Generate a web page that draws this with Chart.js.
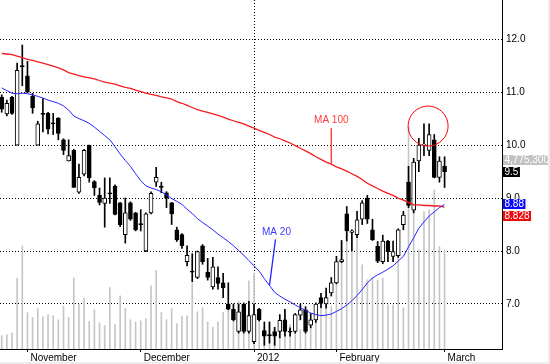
<!DOCTYPE html>
<html lang="en">
<head>
  <meta charset="UTF-8" />
  <title>Daily candles with MA 20 / MA 100</title>
  <script src="https://cdn.jsdelivr.net/npm/chart.js"></script>
  <style>
    html, body { margin: 0; padding: 0; background: #fff; }
  </style>
</head>
<body>
  <canvas id="chart" width="550" height="364"></canvas>

  <script>
    // daily bars, Oct 25 2011 .. Mar 1 2012 (index = trading day)
    const opens = [
      10.90, 10.59, 10.90, 10.00, 11.50, 11.31, 10.92, 10.00, 10.60, 10.60,
      10.42, 10.51, 10.10, 9.70, 9.90, 9.11, 9.45, 10.00, 9.31, 9.05,
      8.90, 9.10, 9.22, 8.91, 8.31, 8.91, 8.72, 8.52, 8.00, 8.72,
      9.30, 9.22, 9.10, 8.91, 8.40, 8.31, 7.80, 7.62, 7.50, 8.10,
      7.60, 7.32, 7.50, 7.40, 7.00, 6.90, 6.48, 7.00, 6.48, 6.29,
      6.90, 6.50, 6.42, 6.48, 6.48, 6.70, 6.48, 6.48, 6.79, 6.89,
      6.60, 6.70, 7.12, 7.00, 7.21, 7.40, 7.80, 8.70, 8.35, 8.31,
      8.60, 9.00, 8.40, 8.09, 7.80, 8.19, 7.90, 7.91, 8.50, 9.30,
      8.77, 9.70, 10.00, 9.90, 10.10, 9.39, 9.60
    ];
    const highs = [
      10.95, 10.85, 10.92, 11.55, 11.89, 11.58, 10.98, 10.45, 10.88, 10.62,
      10.60, 10.52, 10.12, 10.10, 9.92, 9.64, 9.92, 10.00, 9.33, 9.19,
      9.38, 9.38, 9.25, 8.92, 9.00, 8.93, 8.73, 8.78, 8.72, 9.12,
      9.58, 9.30, 9.12, 8.92, 8.45, 8.33, 8.10, 7.95, 8.00, 8.12,
      7.86, 7.88, 7.70, 7.58, 7.40, 7.00, 7.00, 7.02, 7.05, 7.00,
      6.92, 6.66, 6.66, 6.56, 6.80, 6.90, 6.55, 6.82, 7.00, 6.95,
      6.82, 7.02, 7.20, 7.30, 7.50, 7.90, 8.20, 8.84, 8.40, 8.75,
      8.95, 9.05, 8.60, 8.18, 8.30, 8.20, 8.19, 8.42, 8.75, 9.60,
      9.75, 10.13, 10.40, 10.40, 10.20, 9.78, 9.78
    ];
    const lows = [
      10.62, 10.55, 10.58, 10.00, 11.12, 10.99, 10.60, 10.00, 10.25, 10.21,
      10.20, 10.10, 9.82, 9.70, 9.20, 9.09, 9.42, 9.30, 9.05, 8.87,
      8.45, 8.90, 8.68, 8.46, 8.15, 8.58, 8.38, 8.38, 7.99, 8.70,
      9.22, 9.10, 8.82, 8.50, 8.18, 8.05, 7.72, 7.42, 7.48, 7.75,
      7.45, 7.28, 7.28, 7.12, 6.89, 6.68, 6.45, 6.45, 6.45, 6.25,
      6.68, 6.22, 6.26, 6.22, 6.36, 6.39, 6.39, 6.45, 6.70, 6.45,
      6.55, 6.65, 6.93, 6.92, 7.15, 7.38, 7.78, 8.19, 8.00, 8.25,
      8.50, 8.52, 8.20, 7.78, 7.76, 7.80, 7.80, 7.88, 8.40, 8.82,
      8.72, 9.50, 9.80, 9.80, 9.38, 9.30, 9.20
    ];
    const closes = [
      10.68, 10.79, 10.60, 11.41, 11.48, 11.00, 10.70, 10.40, 10.58, 10.30,
      10.40, 10.22, 9.90, 9.80, 9.20, 9.39, 9.90, 9.38, 9.19, 8.92,
      9.00, 9.08, 8.69, 8.50, 8.72, 8.60, 8.40, 8.50, 8.70, 9.09,
      9.39, 9.20, 9.00, 8.70, 8.21, 8.10, 7.92, 7.60, 7.99, 7.80,
      7.50, 7.70, 7.39, 7.31, 6.90, 6.70, 6.85, 6.48, 6.78, 6.80,
      6.70, 6.39, 6.40, 6.39, 6.69, 6.48, 6.47, 6.80, 6.89, 6.48,
      6.70, 7.00, 7.01, 7.12, 7.40, 7.80, 7.84, 8.38, 8.38, 8.59,
      8.91, 8.60, 8.21, 7.81, 8.19, 7.99, 7.99, 8.40, 8.68, 8.86,
      9.68, 10.00, 10.02, 10.20, 9.39, 9.70, 9.50
    ];
    const volumes = [
      640000, 690000, 770000, 3410000, 4970000, 1750000, 1520000, 1940000, 1550000, 1650000,
      1600000, 1410000, 2060000, 1520000, 3430000, 2160000, 2450000, 1330000, 1890000, 1250000,
      1130000, 2960000, 1170000, 2560000, 1950000, 1410000, 1300000, 1360000, 1460000, 3040000,
      3780000, 1760000, 1410000, 1940000, 1220000, 1570000, 1600000, 3170000, 1790000, 1990000,
      1310000, 1040000, 1310000, 1750000, 1990000, 1700000, 2290000, 1520000, 3280000, 3640000,
      1520000, 1040000, 1310000, 1020000, 1410000, 1890000, 1170000, 1510000, 930000, 1570000,
      1020000, 1750000, 2290000, 2770000, 2050000, 3900000, 5170000, 5580000, 4690000, 5500000,
      4050000, 3330000, 3440000, 3330000, 3410000, 2130000, 2130000, 4450000, 1990000, 10690000,
      6700000, 4780000, 6620000, 6700000, 7660000, 4930000, 4775300
    ];
    const ma20 = [
      11.08, 11.03, 10.98, 10.97, 10.98, 10.97, 10.95, 10.92, 10.89, 10.85,
      10.82, 10.79, 10.74, 10.66, 10.55, 10.50, 10.46, 10.41, 10.34, 10.26,
      10.18, 10.10, 9.97, 9.83, 9.71, 9.60, 9.46, 9.33, 9.23, 9.19,
      9.16, 9.12, 9.06, 8.99, 8.94, 8.88, 8.79, 8.71, 8.61, 8.54,
      8.47, 8.40, 8.32, 8.25, 8.18, 8.10, 8.01, 7.92, 7.82, 7.72,
      7.62, 7.48, 7.35, 7.22, 7.15, 7.09, 7.04, 6.98, 6.93, 6.88,
      6.83, 6.80, 6.78, 6.79, 6.81, 6.86, 6.91, 6.98, 7.06, 7.16,
      7.27, 7.40, 7.49, 7.55, 7.60, 7.66, 7.72, 7.81, 7.90, 8.08,
      8.25, 8.43, 8.55, 8.66, 8.74, 8.82, 8.88
    ];
    const ma100 = [
      11.73, 11.72, 11.71, 11.68, 11.65, 11.62, 11.60, 11.57, 11.55, 11.52,
      11.49, 11.46, 11.42, 11.37, 11.34, 11.31, 11.29, 11.27, 11.25, 11.22,
      11.19, 11.17, 11.15, 11.12, 11.09, 11.07, 11.04, 11.01, 10.98, 10.96,
      10.94, 10.91, 10.89, 10.87, 10.82, 10.79, 10.75, 10.71, 10.67, 10.64,
      10.62, 10.59, 10.56, 10.53, 10.49, 10.46, 10.43, 10.40, 10.36, 10.32,
      10.28, 10.24, 10.20, 10.15, 10.12, 10.08, 10.04, 9.99, 9.94, 9.89,
      9.84, 9.78, 9.73, 9.68, 9.64, 9.59, 9.55, 9.51, 9.46, 9.41,
      9.35, 9.28, 9.23, 9.18, 9.13, 9.09, 9.05, 9.00, 8.96, 8.92,
      8.87, 8.87, 8.86, 8.86, 8.85, 8.85, 8.828
    ];

    // x axis: first trading day of each month
    const monthLabels = ['November', 'December', '2012', 'February', 'March'];
    const monthIdx = [5, 27, 49, 65, 86];
    const priceTicks = [7, 8, 9, 10, 11, 12];

    // callouts
    const maNames = ['MA 20', 'MA 100'];
    const maCalloutIdx = [52, 64];
    const circleAt = { x: 82.8, y: 10.36 };

    const RED = '#f41c1c';
    const BLUE = '#2323ff';

    Chart.defaults.font.family = "'Liberation Sans', Arial, sans-serif";
    Chart.defaults.font.size = 10;
    Chart.defaults.color = '#000';

    const pts = arr => arr.map((v, i) => ({ x: i, y: v }));

    const overlay = {
      id: 'overlay',
      afterDraw(chart) {
        const { ctx, chartArea: a, scales: { x, y } } = chart;
        ctx.save();
        ctx.font = "10px 'Liberation Sans', Arial, sans-serif";
        ctx.textAlign = 'center';
        ctx.textBaseline = 'bottom';

        // MA 20 callout (slanted pointer)
        let i = maCalloutIdx[0];
        let px = x.getPixelForValue(i), py = y.getPixelForValue(ma20[i]);
        ctx.strokeStyle = BLUE; ctx.lineWidth = 1.3;
        ctx.beginPath(); ctx.moveTo(px, py); ctx.lineTo(px + 6, py - 46); ctx.stroke();
        ctx.fillStyle = '#3b3bff';
        ctx.fillText(maNames[0], px + 7, py - 48);

        // MA 100 callout
        i = maCalloutIdx[1];
        px = x.getPixelForValue(i); py = y.getPixelForValue(ma100[i]);
        ctx.strokeStyle = '#ff4545'; ctx.lineWidth = 1.5;
        ctx.beginPath(); ctx.moveTo(px, py); ctx.lineTo(px, py - 36); ctx.stroke();
        ctx.fillStyle = '#ff3a3a';
        ctx.fillText(maNames[1], px, py - 39);

        // value tags on the right axis
        const last = closes.length - 1;
        ctx.textAlign = 'left';
        ctx.textBaseline = 'middle';
        const tag = (text, yc, bg, fg, w) => {
          const tw = w || ctx.measureText(text).width + 3;
          ctx.fillStyle = bg;
          ctx.fillRect(a.right + 1, Math.round(yc) - 5, tw, 10);
          ctx.fillStyle = fg;
          ctx.fillText(text, a.right + 2.5, Math.round(yc) + 0.5);
        };
        const yClose = y.getPixelForValue(closes[last]);
        const yMa20 = y.getPixelForValue(ma20[last]);
        const yMa100 = Math.max(y.getPixelForValue(ma100[last]), yMa20 + 12);
        tag(volumes[last].toLocaleString('en-US'), yClose - 12, '#c2c2c2', '#fff', chart.width - a.right);
        tag(String(closes[last]), yClose, '#000', '#fff');
        tag(String(ma20[last]), yMa20, '#0a0aff', '#fff');
        tag(String(ma100[last]), yMa100, '#ee0a0a', '#fff');

        // thin light frame on the right and bottom edges of the picture
        ctx.fillStyle = '#ededed';
        ctx.fillRect(chart.width - 2, 0, 2, chart.height);
        ctx.fillRect(0, chart.height - 2, chart.width, 2);
        ctx.restore();
      }
    };

    new Chart(document.getElementById('chart'), {
      type: 'line',
      data: {
        datasets: [
          {
            // highlight circle
            type: 'line',
            data: [circleAt],
            showLine: false,
            pointRadius: 20,
            pointBorderWidth: 1,
            pointBorderColor: '#ff0000',
            pointBackgroundColor: 'rgba(0,0,0,0)'
          },
          {
            type: 'line',
            label: 'MA 20',
            data: pts(ma20),
            borderColor: BLUE,
            borderWidth: 1,
            pointRadius: 0,
            tension: 0
          },
          {
            type: 'line',
            label: 'MA 100',
            data: pts(ma100),
            borderColor: RED,
            borderWidth: 1.3,
            pointRadius: 0,
            tension: 0
          },
          {
            // candle bodies
            type: 'bar',
            data: opens.map((o, i) => ({ x: i, y: [o, closes[i]] })),
            backgroundColor: opens.map((o, i) => closes[i] < o ? '#000' : '#fff'),
            borderColor: '#000',
            borderWidth: 1,
            borderSkipped: false,
            barThickness: 4,
            minBarLength: 1,
            grouped: false
          },
          {
            // wicks
            type: 'bar',
            data: lows.map((l, i) => ({ x: i, y: [l, highs[i]] })),
            backgroundColor: '#000',
            borderWidth: 0,
            barThickness: 1,
            grouped: false
          },
          {
            type: 'bar',
            label: 'Volume',
            yAxisID: 'yv',
            data: pts(volumes),
            backgroundColor: '#c6c6c6',
            borderWidth: 0,
            barThickness: 1,
            grouped: false
          }
        ]
      },
      options: {
        responsive: false,
        animation: false,
        events: [],
        layout: { padding: 0, autoPadding: false },
        plugins: { legend: { display: false }, tooltip: { enabled: false } },
        scales: {
          x: {
            type: 'linear',
            position: 'bottom',
            min: -0.33,
            max: 97.15,
            offset: false,
            afterBuildTicks: s => { s.ticks = monthIdx.map(v => ({ value: v })); },
            afterFit: s => { s.height = 15; s.paddingLeft = 0; s.paddingRight = 0; },
            ticks: {
              autoSkip: false,
              maxRotation: 0,
              align: 'start',
              labelOffset: 3,
              padding: 0,
              callback: (v, i) => monthLabels[i]
            },
            grid: {
              offset: false,
              color: c => (c.tick && c.tick.value === 49) ? '#000' : 'rgba(0,0,0,0)',
              tickColor: '#000',
              tickLength: 3
            },
            border: { display: true, color: '#000', width: 1, dash: [1, 2] }
          },
          y: {
            type: 'linear',
            position: 'right',
            min: 6.15,
            max: 12.74,
            afterBuildTicks: s => { s.ticks = priceTicks.map(v => ({ value: v })); },
            afterFit: s => { s.width = 48; s.paddingTop = 0; s.paddingBottom = 0; },
            ticks: { padding: 4, callback: v => v.toFixed(1) },
            grid: { color: '#000', drawTicks: false },
            border: { display: true, color: '#000', width: 1, dash: [1, 2] }
          },
          yv: {
            type: 'linear',
            display: false,
            min: 0,
            max: 16800000
          }
        }
      },
      plugins: [overlay]
    });
  </script>
</body>
</html>
